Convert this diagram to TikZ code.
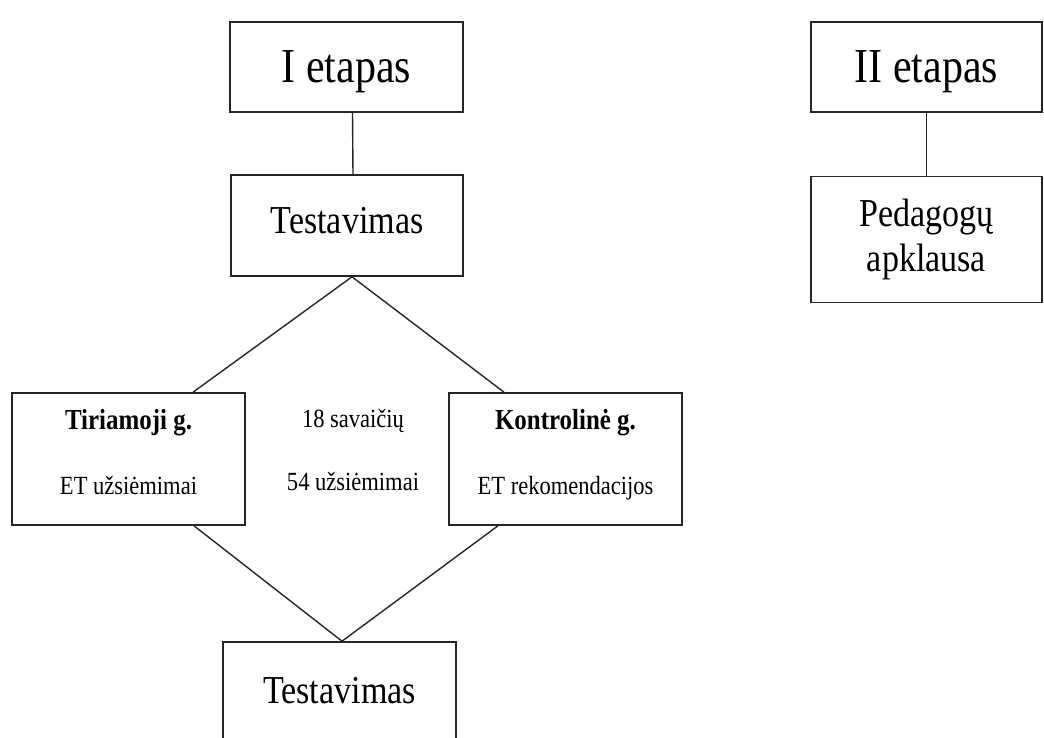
\documentclass[tikz,border=0pt]{standalone}
\usepackage{fontspec}
\setmainfont[FakeStretch=0.86]{Liberation Serif}
\usetikzlibrary{positioning}
\definecolor{ink}{HTML}{262626}

\begin{document}
\begin{tikzpicture}[x=0.5pt,y=-0.5pt,
  box/.style={draw=ink,line width=.8pt,align=center,inner sep=0pt,minimum width=116.5pt},
  big/.style={font=\fontsize{24.4}{28}\selectfont,text depth=0pt},
  mid/.style={font=\fontsize{19.8}{22.5}\selectfont},
  small/.style={font=\fontsize{13.1}{13.5}\selectfont},
  link/.style={draw=ink,line width=.7pt}]
\clip (0,0) rectangle (1044,738);
\node[box,big,minimum height=45pt] (etap1) at (346.5,67) {I etapas};
\node[box,mid,minimum width=116pt,minimum height=50.5pt,text depth=5pt] (test1) at (347,225.5) {Testavimas};
\node[box,big,minimum width=115.5pt,minimum height=45pt] (etap2) at (926.5,67) {II etapas};
\node[box,mid,minimum width=115.5pt,minimum height=63pt] (apkl) at (926.5,239.5) {Pedagogų\\apklausa};
\node[box,small,minimum height=66pt,text depth=7pt] (tir) at (128.5,459) {{\bfseries\fontsize{14.5}{15}\selectfont Tiriamoji g.}\\[19pt]ET užsiėmimai};
\node[box,small,minimum height=66pt,text depth=7pt] (kon) at (565.5,459) {{\bfseries\fontsize{14.5}{15}\selectfont Kontrolinė g.}\\[19pt]ET rekomendacijos};
\node[small,anchor=base] (sav) at (353,427) {18 savaičių};
\node[small,anchor=base] (uzs) at (353,490) {54 užsiėmimai};
\node[box,mid,minimum height=51.5pt,text depth=3pt] (test2) at (339.5,693.5) {Testavimas};
\draw[link] ([xshift=3pt]etap1.south) -- ([xshift=3pt]test1.north);
\draw[link] (etap2.south) -- (apkl.north);
\draw[link] ([xshift=2.5pt]test1.south) -- ([xshift=32.25pt]tir.north);
\draw[link] ([xshift=2.5pt]test1.south) -- ([xshift=-30.75pt]kon.north);
\draw[link] ([xshift=32.75pt]tir.south) -- ([xshift=1.25pt]test2.north);
\draw[link] ([xshift=-33.75pt]kon.south) -- ([xshift=1.25pt]test2.north);
\end{tikzpicture}
\end{document}
